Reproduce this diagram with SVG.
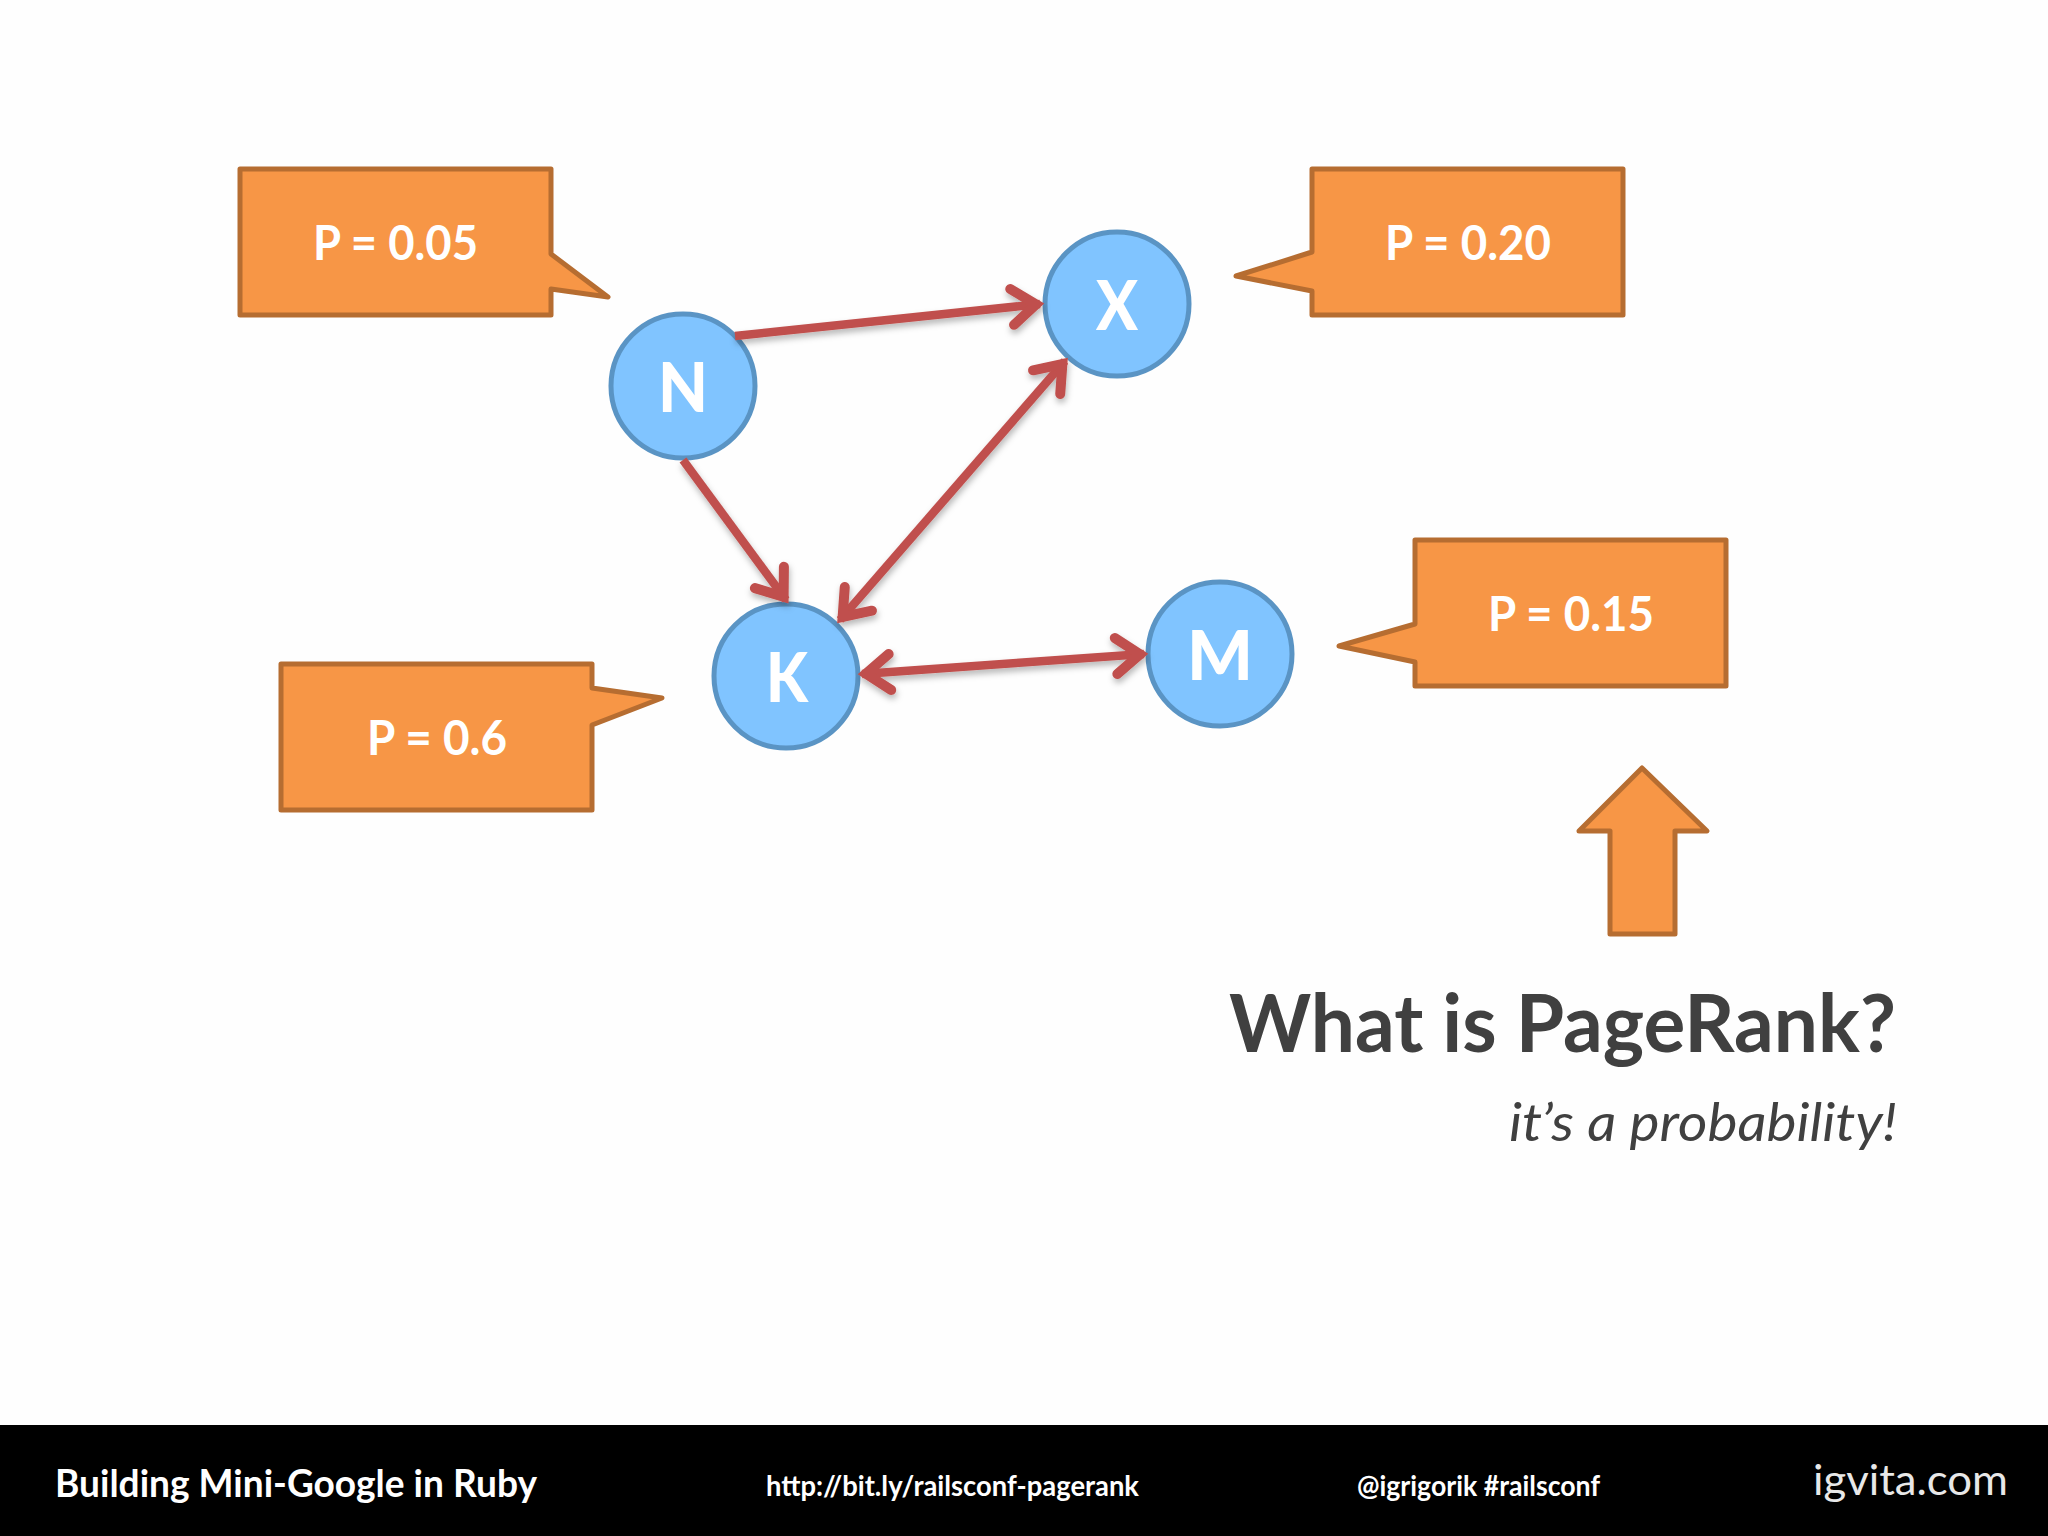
<svg xmlns="http://www.w3.org/2000/svg" width="2048" height="1536" viewBox="0 0 2048 1536">
<style>
text{font-family:"Lato","Noto Sans",sans-serif}
.callout{fill:#f79646;stroke:#b66d31;stroke-width:5;stroke-linejoin:round}
.node{fill:#80c4ff;stroke:#5a94c4;stroke-width:5}
.lbl{fill:#fff;font-weight:700;font-size:48px}
.nl{fill:#fff;font-weight:900;font-size:68px}
.edge{stroke:#c0504d;stroke-width:8.5;fill:none}
.ft{fill:#fff;font-weight:700}
</style>
<defs>
<marker id="a" markerUnits="userSpaceOnUse" markerWidth="50" markerHeight="50" refX="44" refY="25" orient="auto-start-reverse" viewBox="0 0 50 50" overflow="visible">
<path d="M16 7L40 25L16 43" fill="none" stroke="#c0504d" stroke-width="10" stroke-linecap="round" stroke-linejoin="miter"/>
</marker>
<filter id="s" x="-20%" y="-20%" width="140%" height="140%"><feDropShadow dx="1" dy="4" stdDeviation="3" flood-color="#000" flood-opacity="0.28"/></filter>
</defs>
<rect width="2048" height="1536" fill="#fefefe"/>
<g id="callout-n"><path class="callout" d="M240 169H551V254L608 297L551 289V315H240Z"/><text class="lbl" x="313" y="260" textLength="165" lengthAdjust="spacingAndGlyphs">P = 0.05</text></g>
<g id="callout-x"><path class="callout" d="M1312 169H1623V315H1312V291L1236 276L1312 252Z"/><text class="lbl" x="1385" y="260" textLength="166" lengthAdjust="spacingAndGlyphs">P = 0.20</text></g>
<g id="callout-m"><path class="callout" d="M1415 540H1726V686H1415V662L1339 646L1415 624Z"/><text class="lbl" x="1488" y="631" textLength="166" lengthAdjust="spacingAndGlyphs">P = 0.15</text></g>
<g id="callout-k"><path class="callout" d="M281 664H592V688L662 698L592 725V810H281Z"/><text class="lbl" x="367" y="755" textLength="140" lengthAdjust="spacingAndGlyphs">P = 0.6</text></g>
<g id="node-n"><circle class="node" cx="683" cy="386" r="72"/><text class="nl" x="658" y="412" textLength="50" lengthAdjust="spacingAndGlyphs">N</text></g>
<g id="node-x"><circle class="node" cx="1117" cy="304" r="72"/><text class="nl" x="1096" y="330" textLength="42" lengthAdjust="spacingAndGlyphs">X</text></g>
<g id="node-k"><circle class="node" cx="786" cy="676" r="72"/><text class="nl" x="766" y="702" textLength="42" lengthAdjust="spacingAndGlyphs">K</text></g>
<g id="node-m"><circle class="node" cx="1220" cy="654" r="72"/><text class="nl" x="1187" y="680" textLength="66" lengthAdjust="spacingAndGlyphs">M</text></g>
<g id="connectors" filter="url(#s)">
<line class="edge" x1="735" y1="336" x2="1040" y2="304" marker-end="url(#a)"/>
<line class="edge" x1="683" y1="460" x2="786" y2="600" marker-end="url(#a)"/>
<line class="edge" x1="1065" y1="361" x2="840" y2="620" marker-start="url(#a)" marker-end="url(#a)"/>
<line class="edge" x1="862" y1="674" x2="1144" y2="654" marker-start="url(#a)" marker-end="url(#a)"/>
</g>
<g id="up-arrow"><path class="callout" d="M1642 768L1707 831H1675V934H1610V831H1579Z"/></g>
<g id="title">
<text x="1229" y="1052" font-size="80" font-weight="700" fill="#404040" textLength="667" lengthAdjust="spacingAndGlyphs">What is PageRank?</text>
<text x="1509" y="1141" font-size="53" font-style="italic" fill="#404040" textLength="388" lengthAdjust="spacingAndGlyphs">it’s a probability!</text>
</g>
<g id="footer">
<rect y="1425" width="2048" height="111" fill="#000"/>
<text class="ft" x="55" y="1497" font-size="38" textLength="482" lengthAdjust="spacingAndGlyphs">Building Mini-Google in Ruby</text>
<text class="ft" x="766" y="1496" font-size="28" textLength="373" lengthAdjust="spacingAndGlyphs">http://bit.ly/railsconf-pagerank</text>
<text class="ft" x="1357" y="1496" font-size="28" textLength="243" lengthAdjust="spacingAndGlyphs">@igrigorik #railsconf</text>
<text x="1813" y="1495" font-size="42" fill="#e8e8e8" textLength="195" lengthAdjust="spacingAndGlyphs">igvita.com</text>
</g>
</svg>
